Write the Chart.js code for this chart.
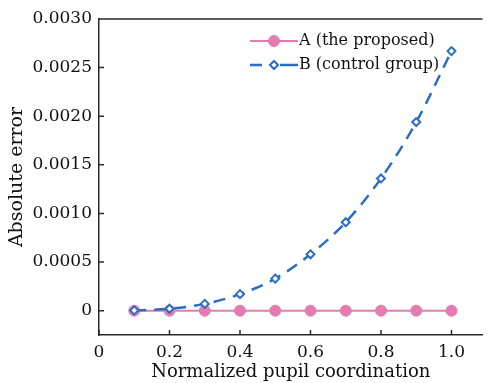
<!DOCTYPE html>
<html>
<head>
<meta charset="utf-8">
<script src="https://cdn.jsdelivr.net/npm/chart.js@4/dist/chart.umd.min.js"></script>
<style>
  html, body { margin: 0; padding: 0; background: #fff; }
  #wrap { width: 489px; height: 383px; }
</style>
</head>
<body>
<div id="wrap"><canvas id="errChart" width="489" height="383"></canvas></div>
<script>
// pupil coordinates and absolute errors
const xPupil = [0.1, 0.2, 0.3, 0.4, 0.5, 0.6, 0.7, 0.8, 0.9, 1.0];
const errA = [0, 0, 0, 0, 0, 0, 0, 0, 0, 0];
const errB = [0.000003, 0.00002, 0.00007, 0.00017, 0.00033, 0.00058, 0.00091, 0.00136, 0.00194, 0.00267];
const seriesNames = ["A (the proposed)", "B (control group)"];
const xTicks = [0, 0.2, 0.4, 0.6, 0.8, 1.0];
const yTicks = [0, 0.0005, 0.0010, 0.0015, 0.0020, 0.0025, 0.0030];

const pink = "#e47cb1";
const blue = "#2b6cc4";
const axisCol = "#2a2a2a";
const txtCol = "#111";
const fontFam = "'DejaVu Serif', serif";

function pts(ys) { return xPupil.map((x, i) => ({x: x, y: ys[i]})); }

// frame top line, inward ticks and legend inside plot
const decor = {
  id: "decor",
  afterDraw(chart) {
    const ctx = chart.ctx;
    const a = chart.chartArea;
    const xs = chart.scales.x, ys = chart.scales.y;
    ctx.save();
    ctx.strokeStyle = axisCol;
    ctx.lineWidth = 1.5;
    ctx.beginPath();
    ctx.moveTo(a.left, a.top);
    ctx.lineTo(a.right, a.top);
    xs.ticks.forEach(t => {
      const px = xs.getPixelForValue(t.value);
      ctx.moveTo(px, a.bottom);
      ctx.lineTo(px, a.bottom - 5);
    });
    ys.ticks.forEach(t => {
      const py = ys.getPixelForValue(t.value);
      ctx.moveTo(a.left, py);
      ctx.lineTo(a.left + 5, py);
    });
    ctx.stroke();

    // legend
    const lx = 250, ly = 41, gap = 24, len = 48;
    chart.data.datasets.forEach((ds, i) => {
      const y = ly + i * gap;
      const cx = lx + len / 2;
      ctx.strokeStyle = ds.borderColor;
      ctx.lineWidth = ds.borderWidth;
      ctx.beginPath();
      if (ds.borderDash) {
        ctx.moveTo(lx, y); ctx.lineTo(lx + 12, y);
        ctx.moveTo(lx + 30, y); ctx.lineTo(lx + len, y);
      } else {
        ctx.moveTo(lx, y); ctx.lineTo(lx + len, y);
      }
      ctx.stroke();
      ctx.fillStyle = ds.pointBackgroundColor;
      ctx.strokeStyle = ds.pointBorderColor;
      ctx.lineWidth = ds.pointBorderWidth;
      ctx.beginPath();
      const r = ds.pointRadius;
      if (ds.pointStyle === "circle") {
        ctx.arc(cx, y, r, 0, Math.PI * 2);
      } else {
        ctx.moveTo(cx, y - r);
        ctx.lineTo(cx + r, y);
        ctx.lineTo(cx, y + r);
        ctx.lineTo(cx - r, y);
        ctx.closePath();
      }
      ctx.fill();
      ctx.stroke();
      ctx.fillStyle = txtCol;
      ctx.font = "16px " + fontFam;
      ctx.textBaseline = "middle";
      ctx.fillText(ds.label, lx + len + 1, y);
    });
    ctx.restore();
  }
};

new Chart("errChart", {
  type: "line",
  data: {
    datasets: [
      {
        label: seriesNames[0],
        data: pts(errA),
        borderColor: pink,
        borderWidth: 2,
        pointStyle: "circle",
        pointRadius: 5.5,
        pointBorderWidth: 1,
        pointBackgroundColor: pink,
        pointBorderColor: pink,
        order: 2
      },
      {
        label: seriesNames[1],
        data: pts(errB),
        borderColor: blue,
        borderWidth: 2.5,
        borderDash: [12, 8],
        cubicInterpolationMode: "monotone",
        pointStyle: "rectRot",
        pointRadius: 4,
        pointBorderWidth: 2,
        pointBackgroundColor: "#fff",
        pointBorderColor: blue,
        order: 1
      }
    ]
  },
  options: {
    responsive: false,
    animation: false,
    layout: { padding: { top: 19, right: 0, left: 0, bottom: 0 } },
    plugins: { legend: { display: false }, tooltip: { enabled: false } },
    scales: {
      x: {
        type: "linear",
        min: 0,
        max: 1.088,
        afterBuildTicks: s => { s.ticks = xTicks.map(v => ({value: v})); },
        afterFit: s => { s.height = 48; },
        grid: { display: false, drawTicks: false },
        border: { color: axisCol, width: 1.5 },
        ticks: {
          color: txtCol,
          padding: 7,
          font: { family: fontFam, size: 17 },
          callback: v => v === 0 ? "0" : v.toFixed(1)
        },
        title: {
          display: true,
          text: "Normalized pupil coordination",
          color: txtCol,
          padding: { top: 0, bottom: 0 },
          font: { family: fontFam, size: 18 }
        }
      },
      y: {
        min: -0.00025,
        max: 0.003,
        afterBuildTicks: s => { s.ticks = yTicks.map(v => ({value: v})); },
        afterFit: s => { s.width = 99; },
        grid: { display: false, drawTicks: false },
        border: { color: axisCol, width: 1.5 },
        ticks: {
          color: txtCol,
          padding: 7,
          font: { family: fontFam, size: 17 },
          callback: v => v === 0 ? "0" : v.toFixed(4)
        },
        title: {
          display: true,
          text: "Absolute error",
          color: txtCol,
          padding: { top: 6, bottom: 0 },
          font: { family: fontFam, size: 19 }
        }
      }
    }
  },
  plugins: [decor]
});
</script>
</body>
</html>
